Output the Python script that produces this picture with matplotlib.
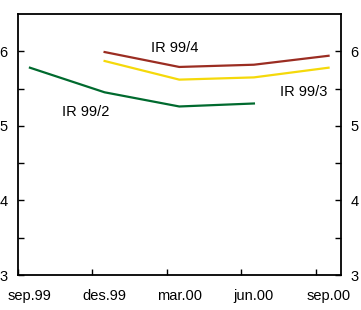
import matplotlib.pyplot as plt

# months counted from 1 Sep 1999; points sit mid-month
months = [0.5, 3.5, 6.5, 9.5, 12.5]
tick_labels = ['sep.99', 'des.99', 'mar.00', 'jun.00', 'sep.00']

ir_99_2 = [5.78, 5.45, 5.26, 5.30]
ir_99_3 = [5.87, 5.62, 5.65, 5.78]
ir_99_4 = [5.99, 5.79, 5.82, 5.94]

plt.rcParams['font.family'] = ['Liberation Sans Narrow', 'Liberation Sans', 'DejaVu Sans']
plt.rcParams['font.size'] = 10.5

fig = plt.figure(figsize=(3.61, 3.10), dpi=100)
ax = fig.add_axes([0.0485, 0.1129, 0.8961, 0.8419])

ax.plot(months[:4], ir_99_2, color='#006a2e', lw=1.6)
ax.plot(months[1:], ir_99_3, color='#f5d90a', lw=1.6)
ax.plot(months[1:], ir_99_4, color='#9b2d22', lw=1.6)

ax.text(2.75, 5.19, 'IR 99/2', ha='center', va='center')
ax.text(11.5, 5.45, 'IR 99/3', ha='center', va='center')
ax.text(6.3, 6.05, 'IR 99/4', ha='center', va='center')

ax.set_xlim(0, 13)
ax.set_ylim(3, 6.5)

ax.set_xticks([0, 3, 6, 9, 12])
ax.set_xticklabels([])
ax.set_xticks(months, minor=True)
ax.set_xticklabels(tick_labels, minor=True)
ax.tick_params(axis='x', which='major', direction='in', length=4, width=1)
ax.tick_params(axis='x', which='minor', length=0, pad=10)

ax.set_yticks([3, 4, 5, 6])
ax.set_yticks([3.5, 4.5, 5.5], minor=True)
ax.tick_params(axis='y', which='both', direction='in', length=4, width=1,
               left=True, right=True, labelleft=True, labelright=True, pad=7)

for s in ax.spines.values():
    s.set_linewidth(1.3)

fig.savefig('out.png', dpi=100)
